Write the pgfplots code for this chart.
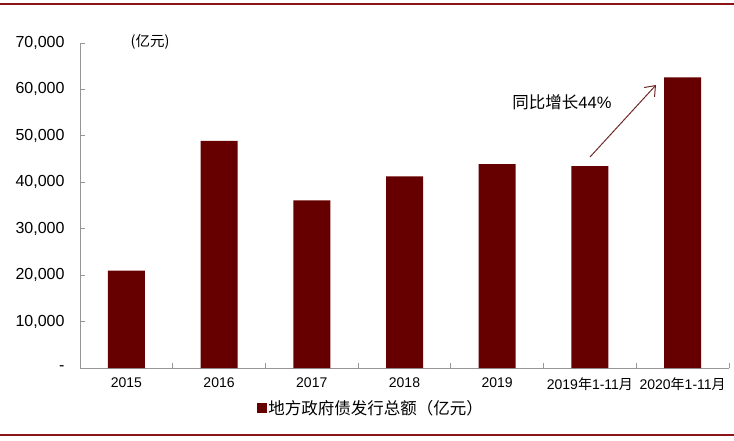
\documentclass[border=0pt]{standalone}
\usepackage{pgfplots}
\pgfplotsset{compat=1.18}
\usepackage{fontspec}
\setmainfont{Liberation Sans}
\newfontfamily\cjk{Noto Sans CJK SC}
\usetikzlibrary{arrows.meta}
\definecolor{barred}{RGB}{102,0,0}
\definecolor{frame}{RGB}{140,20,25}
\definecolor{arr}{RGB}{110,40,40}
\definecolor{axgray}{RGB}{150,150,150}
\begin{document}
\begin{tikzpicture}[x=1pt,y=1pt]
\path[use as bounding box] (0,0) rectangle (734,440);
\draw[frame,line width=1.6pt] (0,436) -- (734,436);
\draw[frame,line width=1.6pt] (0,5) -- (734,5);
\begin{axis}[
  at={(80pt,72pt)}, anchor=south west,
  scale only axis, width=649pt, height=325pt,
  xmin=-0.5, xmax=6.5, ymin=0, ymax=70000,
  scaled y ticks=false,
  axis x line*=bottom, axis y line*=left,
  axis line style={axgray, line width=0.8pt, -},
  ytick={0,10000,20000,30000,40000,50000,60000,70000},
  yticklabels={-,{10,000},{20,000},{30,000},{40,000},{50,000},{60,000},{70,000}},
  xtick={0,1,2,3,4,5,6},
  xticklabels={2015,2016,2017,2018,2019,{2019{\cjk 年}1-11{\cjk 月}},{2020{\cjk 年}1-11{\cjk 月}}},
  minor xtick={-0.5,0.5,1.5,2.5,3.5,4.5,5.5,6.5},
  major x tick style={draw=none},
  minor x tick style={axgray, line width=0.8pt},
  y tick style={axgray, line width=0.8pt},
  tick align=inside,
  major tick length=5pt, minor tick length=5pt,
  xticklabel style={font=\fontsize{14}{16}\selectfont, yshift=-6pt},
  yticklabel style={font=\fontsize{16}{18}\selectfont, xshift=-12pt},
  legend style={at={(0.448,-0.123)}, anchor=center, draw=none, fill=none,
    font=\fontsize{16.5}{18}\selectfont\cjk, inner sep=0pt},
  legend image code/.code={\fill[barred] (0pt,-5pt) rectangle (10pt,5pt);},
  clip=false,
]
\addplot[ybar, bar width=37pt, fill=barred, draw=none] coordinates {
(0,21000) (1,48900) (2,36100) (3,41300) (4,43900) (5,43500) (6,62600)};
\addlegendentry{地方政府债发行总额（亿元）}
\end{axis}
\node[font=\fontsize{14.5}{16}\selectfont\cjk] at (150,398) {(亿元)};
\node[font=\fontsize{16.5}{18}\selectfont] at (562,338) {{\cjk 同比增长}44\%};
\draw[arr, line width=1pt, -{Straight Barb[length=9pt,width=14pt]}] (590,283) -- (656,355);
\end{tikzpicture}
\end{document}
